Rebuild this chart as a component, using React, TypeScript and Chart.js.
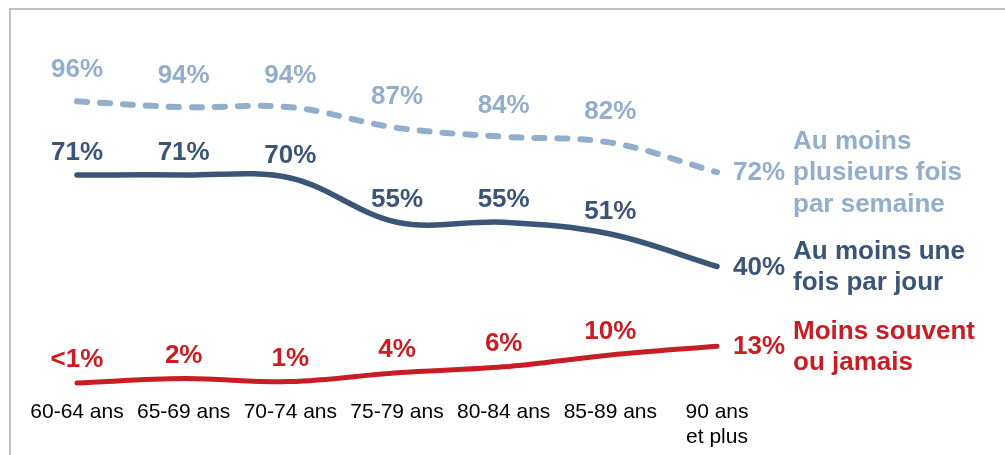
import React, { useEffect, useRef } from "react";
import { Chart, registerables } from "chart.js";

Chart.register(...registerables);

// ---- Data ----
const categories: (string | string[])[] = [
  "60-64 ans",
  "65-69 ans",
  "70-74 ans",
  "75-79 ans",
  "80-84 ans",
  "85-89 ans",
  ["90 ans", "et plus"],
];

const weeklyValues = [96, 94, 94, 87, 84, 82, 72];
const weeklyLabels = ["96%", "94%", "94%", "87%", "84%", "82%", "72%"];
const weeklyName = ["Au moins", "plusieurs fois", "par semaine"];

const dailyValues = [71, 71, 70, 55, 55, 51, 40];
const dailyLabels = ["71%", "71%", "70%", "55%", "55%", "51%", "40%"];
const dailyName = ["Au moins une", "fois par jour"];

const rarelyValues = [0.5, 2, 1, 4, 6, 10, 13];
const rarelyLabels = ["<1%", "2%", "1%", "4%", "6%", "10%", "13%"];
const rarelyName = ["Moins souvent", "ou jamais"];

// ---- Styles ----
const LIGHT = "#93aecb";
const NAVY = "#3a5576";
const RED = "#c81d22";
const FONT_FAMILY = '"Liberation Sans", Arial, Helvetica, sans-serif';

const seriesLabels = [weeklyLabels, dailyLabels, rarelyLabels];
const seriesNames = [weeklyName, dailyName, rarelyName];
const seriesColors = [LIGHT, NAVY, RED];
const labelOffsets = [31, 22, 23];

const annotatePlugin = {
  id: "annotate",
  beforeDraw(chart: any) {
    const ctx = chart.ctx;
    ctx.save();
    ctx.fillStyle = "#c0c0c0";
    ctx.fillRect(9, 8, 2, chart.height - 8);
    ctx.fillRect(9, 8, chart.width - 9, 2);
    ctx.restore();
  },
  afterDatasetsDraw(chart: any) {
    const ctx = chart.ctx;
    chart.data.datasets.forEach((_ds: any, di: number) => {
      const meta = chart.getDatasetMeta(di);
      const labels = seriesLabels[di];
      const names = seriesNames[di];
      const color = seriesColors[di];
      const n = meta.data.length;
      ctx.save();
      ctx.font = `bold 26px ${FONT_FAMILY}`;
      ctx.fillStyle = color;
      ctx.textBaseline = "middle";
      meta.data.forEach((pt: any, i: number) => {
        if (i < n - 1) {
          ctx.textAlign = "center";
          ctx.fillText(labels[i], pt.x, pt.y - labelOffsets[di]);
        } else {
          ctx.textAlign = "left";
          ctx.fillText(labels[i], pt.x + 16, pt.y + 1);
          const lh = 31.5;
          names.forEach((line: string, li: number) => {
            const y = pt.y + 1 + (li - (names.length - 1) / 2) * lh;
            ctx.fillText(line, pt.x + 76, y);
          });
        }
      });
      ctx.restore();
    });
  },
};

export default function App() {
  const canvasRef = useRef<HTMLCanvasElement | null>(null);

  useEffect(() => {
    if (!canvasRef.current) return;
    const chart = new Chart(canvasRef.current, {
      type: "line",
      data: {
        labels: categories as any,
        datasets: [
          {
            label: weeklyName.join(" "),
            data: weeklyValues,
            borderColor: LIGHT,
            borderWidth: 6,
            borderDash: [10, 13],
            borderCapStyle: "round",
            tension: 0.35,
            pointRadius: 0,
            fill: false,
            clip: false as any,
          },
          {
            label: dailyName.join(" "),
            data: dailyValues,
            borderColor: NAVY,
            borderWidth: 5.5,
            borderCapStyle: "round",
            tension: 0.35,
            pointRadius: 0,
            fill: false,
            clip: false as any,
          },
          {
            label: rarelyName.join(" "),
            data: rarelyValues,
            borderColor: RED,
            borderWidth: 5,
            borderCapStyle: "round",
            tension: 0.35,
            pointRadius: 0,
            fill: false,
            clip: false as any,
          },
        ],
      },
      options: {
        responsive: false,
        animation: false,
        layout: {
          padding: { left: 77, right: 288, top: 89.5, bottom: 7 },
        },
        plugins: {
          legend: { display: false },
          tooltip: { enabled: false },
          title: { display: false },
        },
        scales: {
          x: {
            type: "category",
            offset: false,
            grid: { display: false, drawTicks: false },
            border: { display: false },
            afterFit: (scale: any) => {
              scale.height = 63.5;
            },
            ticks: {
              color: "#000000",
              padding: 15,
              maxRotation: 0,
              autoSkip: false,
              font: { family: FONT_FAMILY, size: 21, lineHeight: 1.2 },
            },
          },
          y: {
            display: false,
            min: 0,
            max: 100,
          },
        },
      },
      plugins: [annotatePlugin],
    });
    return () => chart.destroy();
  }, []);

  return (
    <div style={{ position: "absolute", left: 0, top: 0, width: 1005, height: 455, background: "#ffffff" }}>
      <canvas ref={canvasRef} width={1005} height={455} style={{ display: "block" }} />
    </div>
  );
}
